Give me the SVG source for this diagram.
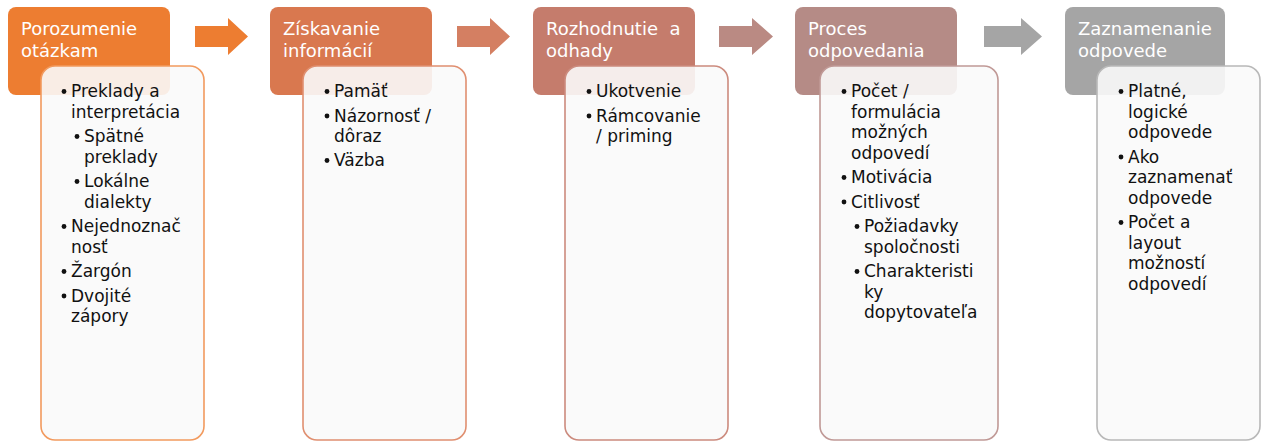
<svg xmlns="http://www.w3.org/2000/svg" width="1261" height="441" viewBox="0 0 1261 441">
<style>
.hd{stroke:none}
.bd{fill:#f9f9f9;fill-opacity:0.9;stroke-width:1.6}
.ht{font-family:"DejaVu Sans","Open Sans",sans-serif;font-size:18px;fill:#ffffff}
.bt{font-family:"DejaVu Sans","Open Sans",sans-serif;font-size:17px;fill:#111111}
.bl{fill:#111111}
</style>
<rect width="1261" height="441" fill="#ffffff"/>
<g id="connectors">
<path d="M195,26 H228 V18 L248,36.5 L228,55 V47 H195 Z" fill="#ED7D31"/>
<path d="M457,26 H490 V18 L510,36.5 L490,55 V47 H457 Z" fill="#D47F62"/>
<path d="M719,26 H752 V18 L773,36.5 L752,55 V47 H719 Z" fill="#BA8A83"/>
<path d="M984,26 H1021 V18 L1042,36.5 L1021,55 V47 H984 Z" fill="#A5A5A5"/>
</g>
<g id="node1">
<rect class="hd" x="8" y="7" width="162" height="88" rx="8" fill="#ED7D31"/>
<text class="ht" x="21" y="35">Porozumenie</text>
<text class="ht" x="21" y="57">otázkam</text>
<rect class="bd" x="41" y="66" width="163" height="374" rx="14" stroke="#F29A5E"/>
<circle class="bl" cx="64" cy="91.5" r="2.4"/><text class="bt" x="71" y="97">Preklady a</text>
<text class="bt" x="71" y="117.5">interpretácia</text>
<circle class="bl" cx="77" cy="136.5" r="2.4"/><text class="bt" x="84" y="142">Spätné</text>
<text class="bt" x="84" y="162.5">preklady</text>
<circle class="bl" cx="77" cy="181.5" r="2.4"/><text class="bt" x="84" y="187">Lokálne</text>
<text class="bt" x="84" y="207.5">dialekty</text>
<circle class="bl" cx="64" cy="226.5" r="2.4"/><text class="bt" x="71" y="232">Nejednoznač</text>
<text class="bt" x="71" y="252.5">nosť</text>
<circle class="bl" cx="64" cy="271.5" r="2.4"/><text class="bt" x="71" y="277">Žargón</text>
<circle class="bl" cx="64" cy="296" r="2.4"/><text class="bt" x="71" y="301.5">Dvojité</text>
<text class="bt" x="71" y="322">zápory</text>
</g>
<g id="node2">
<rect class="hd" x="270" y="7" width="162" height="88" rx="8" fill="#D9784F"/>
<text class="ht" x="283" y="35">Získavanie</text>
<text class="ht" x="283" y="57">informácií</text>
<rect class="bd" x="303" y="66" width="163" height="374" rx="14" stroke="#E08F70"/>
<circle class="bl" cx="327" cy="91.5" r="2.4"/><text class="bt" x="334" y="97">Pamäť</text>
<circle class="bl" cx="327" cy="116" r="2.4"/><text class="bt" x="334" y="121.5">Názornosť /</text>
<text class="bt" x="334" y="142">dôraz</text>
<circle class="bl" cx="327" cy="160.5" r="2.4"/><text class="bt" x="334" y="166">Väzba</text>
</g>
<g id="node3">
<rect class="hd" x="533" y="7" width="162" height="88" rx="8" fill="#C57C6C"/>
<text class="ht" x="546" y="35" xml:space="preserve">Rozhodnutie  a</text>
<text class="ht" x="546" y="57">odhady</text>
<rect class="bd" x="565" y="66" width="163" height="374" rx="14" stroke="#CC8B7E"/>
<circle class="bl" cx="589" cy="91.5" r="2.4"/><text class="bt" x="596" y="97">Ukotvenie</text>
<circle class="bl" cx="589" cy="116" r="2.4"/><text class="bt" x="596" y="121.5">Rámcovanie</text>
<text class="bt" x="596" y="142">/ priming</text>
</g>
<g id="node4">
<rect class="hd" x="795" y="7" width="162" height="88" rx="8" fill="#B58B86"/>
<text class="ht" x="808" y="35">Proces</text>
<text class="ht" x="808" y="57">odpovedania</text>
<rect class="bd" x="820" y="66" width="178" height="374" rx="14" stroke="#C09996"/>
<circle class="bl" cx="844" cy="91.5" r="2.4"/><text class="bt" x="851" y="97">Počet /</text>
<text class="bt" x="851" y="117.5">formulácia</text>
<text class="bt" x="851" y="138">možných</text>
<text class="bt" x="851" y="158.5">odpovedí</text>
<circle class="bl" cx="844" cy="177.5" r="2.4"/><text class="bt" x="851" y="183">Motivácia</text>
<circle class="bl" cx="844" cy="202" r="2.4"/><text class="bt" x="851" y="207.5">Citlivosť</text>
<circle class="bl" cx="857" cy="226.5" r="2.4"/><text class="bt" x="864" y="232">Požiadavky</text>
<text class="bt" x="864" y="252.5">spoločnosti</text>
<circle class="bl" cx="857" cy="271.5" r="2.4"/><text class="bt" x="864" y="277">Charakteristi</text>
<text class="bt" x="864" y="297.5">ky</text>
<text class="bt" x="864" y="318">dopytovateľa</text>
</g>
<g id="node5">
<rect class="hd" x="1065" y="7" width="160" height="88" rx="8" fill="#A5A5A5"/>
<text class="ht" x="1078" y="35">Zaznamenanie</text>
<text class="ht" x="1078" y="57">odpovede</text>
<rect class="bd" x="1097" y="66" width="163" height="374" rx="14" stroke="#B8B8B8"/>
<circle class="bl" cx="1121" cy="91.5" r="2.4"/><text class="bt" x="1128" y="97">Platné,</text>
<text class="bt" x="1128" y="117.5">logické</text>
<text class="bt" x="1128" y="138">odpovede</text>
<circle class="bl" cx="1121" cy="157" r="2.4"/><text class="bt" x="1128" y="162.5">Ako</text>
<text class="bt" x="1128" y="183">zaznamenať</text>
<text class="bt" x="1128" y="203.5">odpovede</text>
<circle class="bl" cx="1121" cy="222.5" r="2.4"/><text class="bt" x="1128" y="228">Počet a</text>
<text class="bt" x="1128" y="248.5">layout</text>
<text class="bt" x="1128" y="269">možností</text>
<text class="bt" x="1128" y="289.5">odpovedí</text>
</g>
</svg>
